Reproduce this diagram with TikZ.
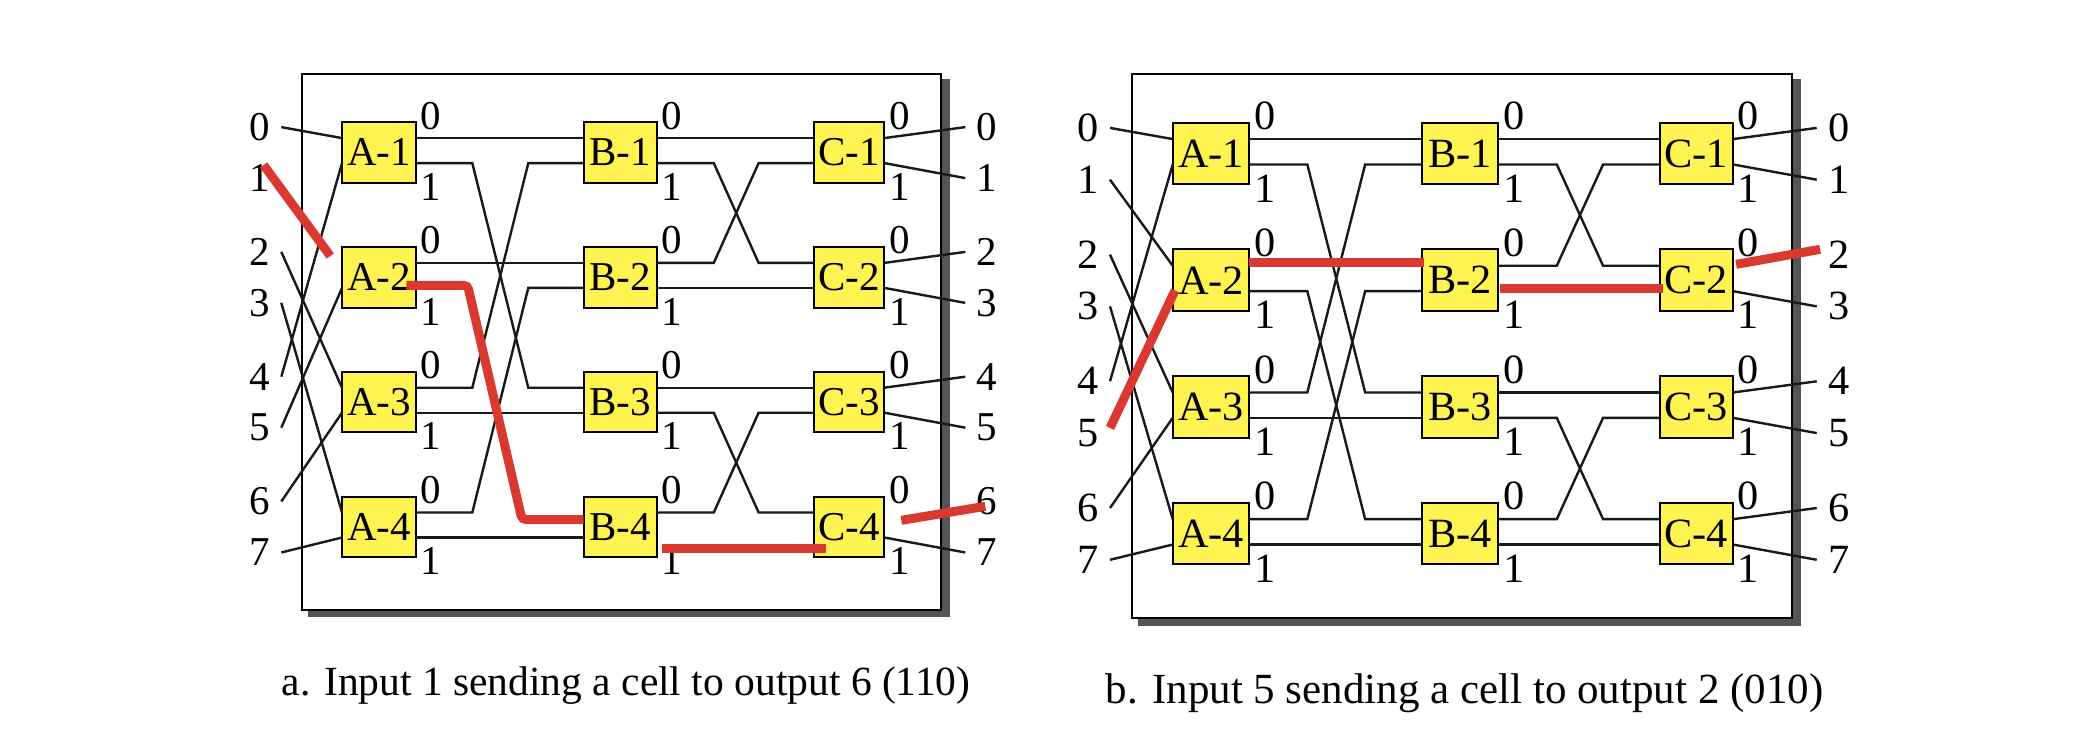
\documentclass[tikz,border=0pt]{standalone}
\usepackage{fontspec}
\setmainfont{Liberation Serif}
\definecolor{swyellow}{HTML}{FFF352}
\definecolor{pathred}{HTML}{DA3932}
\definecolor{shadowgray}{HTML}{555555}
\tikzset{
  wire/.style={line width=2.4pt, black!90},
  hot/.style={line width=9pt, pathred},
  swbox/.style={draw, line width=2pt, fill=swyellow, inner sep=0pt,
    minimum height=60.6pt, font=\fontsize{41}{41}\selectfont},
  swA/.style={swbox, minimum width=74pt},
  swB/.style={swbox, minimum width=73.4pt},
  swC/.style={swbox, minimum width=70.7pt},
  num/.style={inner sep=0pt, font=\fontsize{41}{41}\selectfont},
  inlab/.style={num, anchor=east, inner xsep=11pt},
  outlab/.style={num, anchor=west, inner xsep=11pt},
  captext/.style={anchor=base, inner sep=0pt},
}
\newcommand\wire[3]{\ifcsname skip#1#2\endcsname\else\draw[wire] #3;\fi}
\newcommand\skipwire[2]{\expandafter\def\csname skip#1#2\endcsname{}}
\newcommand\bent[5]{\wire{#1}{#2}{(#1#2) -- (#4,0 |- #1#2) -- (#5,0 |- #1#3) -- (#1#3)}}
\newcommand\straight[3]{\wire{#1}{#2}{(#1#2) -- (#1#3)}}
\newcommand\drawpanel[1]{%
  \fill[shadowgray] (6,5) rectangle (647.5,543.8);
  \draw[line width=2pt, fill=white] (0,0) rectangle (638.7,536.4);
  \foreach \k in {1,2,3,4}{%
    \pgfmathsetmacro\cy{78.8+124.8*(\k-1)}%
    \node[swA] (#1A\k) at (76.7,\cy) {A-\k};
    \node[swB] (#1B\k) at (318,\cy) {B-\k};
    \node[swC] (#1C\k) at (546.65,\cy) {C-\k};
    \coordinate (#1A\k iu) at (39.7,\cy-14.3);
    \coordinate (#1A\k il) at (39.7,\cy+10.7);
    \coordinate (#1A\k ou) at (113.7,\cy-14.3);
    \coordinate (#1A\k ol) at (113.7,\cy+10.7);
    \coordinate (#1B\k iu) at (281.3,\cy-14.3);
    \coordinate (#1B\k il) at (281.3,\cy+10.7);
    \coordinate (#1B\k ou) at (354.7,\cy-14.3);
    \coordinate (#1B\k ol) at (354.7,\cy+10.7);
    \coordinate (#1C\k iu) at (511.3,\cy-14.3);
    \coordinate (#1C\k il) at (511.3,\cy+10.7);
    \coordinate (#1C\k ou) at (582,\cy-14.3);
    \coordinate (#1C\k ol) at (582,\cy+10.7);
    \node[num] (#1A\k p0) at (128.7,\cy-36.8) {0};
    \node[num] (#1A\k p1) at (128.7,\cy+34.3) {1};
    \node[num] (#1B\k p0) at (369.7,\cy-36.8) {0};
    \node[num] (#1B\k p1) at (369.7,\cy+34.3) {1};
    \node[num] (#1C\k p0) at (597,\cy-36.8) {0};
    \node[num] (#1C\k p1) at (597,\cy+34.3) {1};
  }
  \foreach \j/\y/\k/\p in {0/53.5/1/iu,1/104.5/2/iu,2/178.3/3/iu,3/229.3/4/iu,
                           4/303.1/1/il,5/354.1/2/il,6/427.9/3/il,7/478.9/4/il}{%
    \node[inlab] (#1in\j) at (-21,\y) {\j};
    \wire{#1}{in\j}{(#1in\j.east) -- (#1A\k\p)}
  }
  \foreach \j/\y/\k/\p in {0/53.5/1/ou,1/104.5/1/ol,2/178.3/2/ou,3/229.3/2/ol,
                           4/303.1/3/ou,5/354.1/3/ol,6/427.9/4/ou,7/478.9/4/ol}{%
    \node[outlab] (#1out\j) at (663,\y) {\j};
    \wire{#1}{C\k\p}{(#1C\k\p) -- (#1out\j.west)}
  }
  \straight{#1}{A1ou}{B1iu}
  \bent{#1}{A1ol}{B3iu}{170}{226}
  \straight{#1}{A2ou}{B2iu}
  \bent{#1}{A2ol}{B4iu}{170}{226}
  \bent{#1}{A3ou}{B1il}{170}{226}
  \straight{#1}{A3ol}{B3il}
  \bent{#1}{A4ou}{B2il}{170}{226}
  \straight{#1}{A4ol}{B4il}
  \straight{#1}{B1ou}{C1iu}
  \bent{#1}{B1ol}{C2iu}{411.5}{456.3}
  \bent{#1}{B2ou}{C1il}{411.5}{456.3}
  \straight{#1}{B2ol}{C2il}
  \straight{#1}{B3ou}{C3iu}
  \bent{#1}{B3ol}{C4iu}{411.5}{456.3}
  \bent{#1}{B4ou}{C3il}{411.5}{456.3}
  \straight{#1}{B4ol}{C4il}
}
\skipwire{a}{in1}\skipwire{a}{A2ol}\skipwire{a}{B4ol}\skipwire{a}{C4ou}
\skipwire{b}{in5}\skipwire{b}{A2ou}\skipwire{b}{B2ol}\skipwire{b}{C2ou}
\begin{document}
\begin{tikzpicture}[x=1pt,y=-1pt]
\useasboundingbox (0,0) rectangle (2094,730);
\begin{scope}[shift={(302.3,73.6)}]
  \drawpanel{a}
  \coordinate (aR1s) at (-38.7,91.4);
  \coordinate (aR1e) at (28,182.4);
  \coordinate (aR2s) at (104,211.7);
  \coordinate (aR2a) at (165.3,211.7);
  \coordinate (aR2b) at (219.7,446);
  \coordinate (aR2e) at (281.3,446);
  \coordinate (aR3s) at (359.7,474.7);
  \coordinate (aR3e) at (523.7,474.7);
  \coordinate (aR4s) at (599,446.7);
  \coordinate (aR4e) at (683,432.7);
  \draw[hot] (aR1s) -- (aR1e);
  \draw[hot, rounded corners=4pt] (aR2s) -- (aR2a) -- (aR2b) -- (aR2e);
  \draw[hot] (aR3s) -- (aR3e);
  \draw[hot] (aR4s) -- (aR4e);
\end{scope}
\begin{scope}[shift={(1131.7,73.6)}, xscale=1.033, yscale=1.015, transform shape]
  \drawpanel{b}
  \coordinate (bR1s) at (-21,349);
  \coordinate (bR1e) at (41.9,213.6);
  \coordinate (bR2s) at (113.8,185.7);
  \coordinate (bR2e) at (283,185.7);
  \coordinate (bR3s) at (356.5,212.1);
  \coordinate (bR3e) at (514,212.1);
  \coordinate (bR4s) at (585,187.9);
  \coordinate (bR4e) at (666.3,173.1);
  \draw[hot] (bR1s) -- (bR1e);
  \draw[hot] (bR2s) -- (bR2e);
  \draw[hot] (bR3s) -- (bR3e);
  \draw[hot] (bR4s) -- (bR4e);
\end{scope}
\node[captext, font=\fontsize{41.5}{41.5}\selectfont] (capa) at (626,695)
  {a. Input 1 sending a cell to output 6 (110)};
\node[captext, font=\fontsize{43}{43}\selectfont] (capb) at (1464.5,703)
  {b. Input 5 sending a cell to output 2 (010)};
\end{tikzpicture}
\end{document}
